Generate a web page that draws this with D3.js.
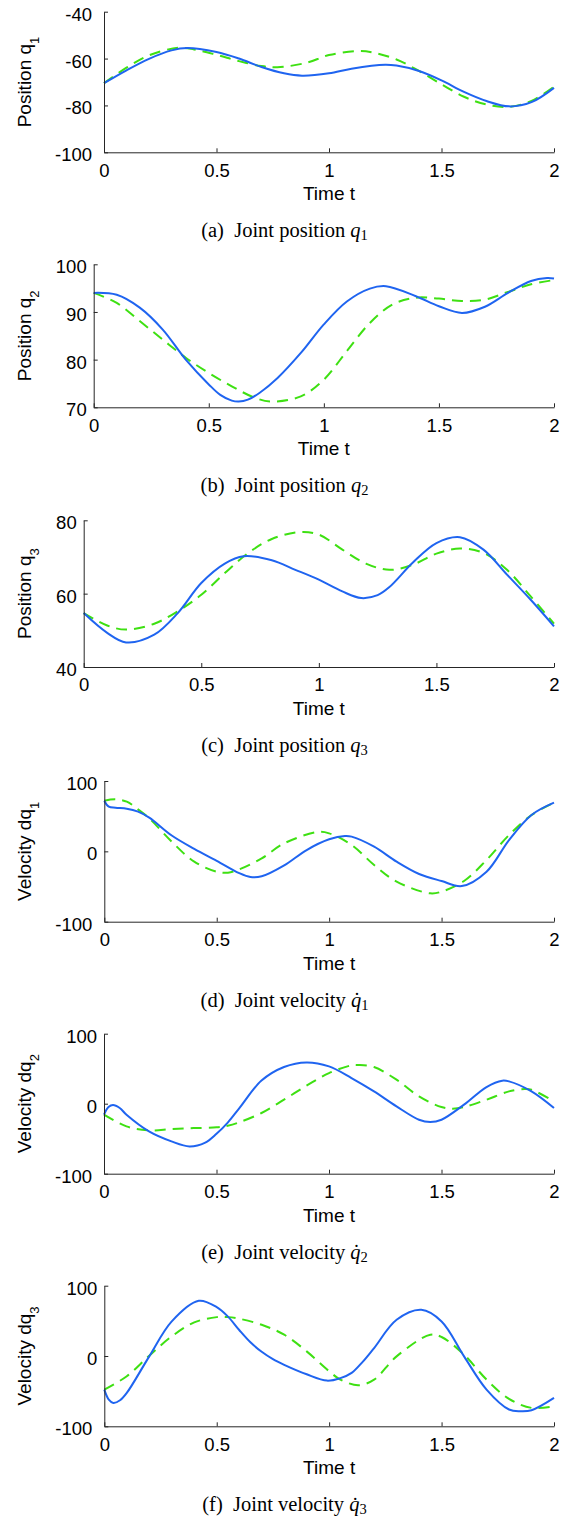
<!DOCTYPE html>
<html>
<head>
<meta charset="utf-8">
<script src="https://cdn.jsdelivr.net/npm/d3@7"></script>
<style>
  html, body { margin: 0; padding: 0; background: #fff; }
  svg { display: block; }
</style>
</head>
<body>
<svg id="fig" width="569" height="1517"></svg>
<script>
// Shared time axis
const timeDomain = [0, 2];
const timeTicks = [0, 0.5, 1, 1.5, 2];

// Joint position q1: [t, value]
const q1Solid = [[0,-70.5],[0.1,-65],[0.2,-60.1],[0.3,-56.5],[0.37,-55.5],[0.5,-57.2],[0.6,-60],[0.7,-63.6],[0.8,-66.3],[0.88,-67.3],[1.0,-66.3],[1.1,-64.3],[1.25,-62.6],[1.3,-63],[1.4,-65.3],[1.5,-69.3],[1.6,-74.2],[1.7,-78.1],[1.8,-80.4],[1.9,-78.6],[2.0,-72.5]];
const q1Dashed = [[0,-70.5],[0.1,-63.9],[0.2,-58.6],[0.33,-55.4],[0.4,-56.1],[0.5,-58.4],[0.6,-61.1],[0.7,-63.2],[0.77,-63.7],[0.9,-61.8],[1.0,-58.5],[1.13,-56.8],[1.2,-57.5],[1.3,-60.4],[1.4,-65.3],[1.5,-71],[1.6,-76.3],[1.7,-79.6],[1.8,-80.6],[1.9,-78.1],[2.0,-72]];

// Joint position q2
const q2Solid = [[0,94],[0.1,93.6],[0.2,90.9],[0.3,86.3],[0.4,80],[0.5,74.8],[0.55,72.6],[0.6,71.4],[0.63,71.2],[0.67,71.6],[0.72,73],[0.8,76.2],[0.9,81.4],[1.0,87.4],[1.1,92.2],[1.2,94.9],[1.27,95.4],[1.4,93.3],[1.5,91.2],[1.6,89.8],[1.7,91.1],[1.8,94],[1.9,96.5],[1.97,97.1],[2.0,97]];
const q2Dashed = [[0,94],[0.1,91.9],[0.2,88.1],[0.3,84.2],[0.4,80.4],[0.5,77.2],[0.6,74.4],[0.7,72],[0.77,71.2],[0.9,72.3],[1.0,75.8],[1.1,81.8],[1.2,87.7],[1.3,91.6],[1.4,93],[1.5,92.8],[1.6,92.3],[1.7,92.6],[1.8,94.2],[1.9,95.8],[2.0,96.7]];

// Joint position q3
const q3Solid = [[0,54.7],[0.1,49.3],[0.18,46.7],[0.3,48.8],[0.4,54.7],[0.5,62.9],[0.6,68.2],[0.68,70.2],[0.8,69.1],[0.9,66.5],[1.0,63.8],[1.1,60.6],[1.18,58.8],[1.25,59.6],[1.3,61.8],[1.4,68.5],[1.5,73.8],[1.6,75.4],[1.7,72],[1.8,65.2],[1.9,58.4],[2.0,51.1]];
const q3Dashed = [[0,54.7],[0.1,51.3],[0.18,50.2],[0.3,51.8],[0.4,55.2],[0.5,59.7],[0.6,65.6],[0.7,71.1],[0.8,74.9],[0.92,76.8],[1.0,76.1],[1.1,72],[1.2,68.2],[1.3,66.5],[1.4,67.9],[1.5,70.9],[1.6,72.3],[1.7,71.1],[1.8,66.5],[1.9,59.3],[2.0,51.8]];

// Joint velocity dq1
const dq1Solid = [[0,72],[0.02,63.5],[0.05,62],[0.1,60.7],[0.15,56.4],[0.2,47.9],[0.3,22.5],[0.4,3.5],[0.5,-13.5],[0.6,-31],[0.65,-36.5],[0.7,-35.5],[0.8,-20],[0.9,1.9],[1.0,17.1],[1.07,21.8],[1.1,20.9],[1.2,6.6],[1.3,-14.7],[1.4,-32.2],[1.5,-42.2],[1.59,-49.3],[1.7,-28.9],[1.8,16.1],[1.9,51.7],[2.0,69.2]];
const dq1Dashed = [[0,72],[0.05,74],[0.1,70.6],[0.15,59.7],[0.2,46.9],[0.3,13.7],[0.4,-14.7],[0.5,-28.9],[0.55,-30.3],[0.6,-25.6],[0.7,-10],[0.8,11.4],[0.95,27.5],[1.0,25.6],[1.1,9],[1.2,-19.4],[1.3,-43.1],[1.45,-59.7],[1.5,-57.3],[1.6,-42.2],[1.7,-12.3],[1.8,23.2],[1.9,51.7],[2.0,69.2]];

// Joint velocity dq2
const dq2Solid = [[0,-15.7],[0.02,-4.8],[0.04,-1.9],[0.07,-6.2],[0.1,-15.7],[0.2,-39.5],[0.3,-53.8],[0.38,-61],[0.45,-55.5],[0.5,-43],[0.55,-27],[0.6,-7],[0.7,33],[0.8,52.4],[0.9,59],[1.0,53.3],[1.1,36.7],[1.2,17.6],[1.3,-3.8],[1.4,-22.9],[1.45,-26.2],[1.5,-22.9],[1.6,-1.4],[1.7,23.8],[1.77,32.9],[1.8,31.9],[1.9,17.6],[2.0,-6.2]];
const dq2Dashed = [[0,-15.7],[0.1,-32.4],[0.2,-38.1],[0.3,-36.2],[0.4,-34.8],[0.5,-33.8],[0.55,-31.4],[0.6,-26.7],[0.7,-13.3],[0.8,5.7],[0.9,25.7],[1.0,43.8],[1.1,54.8],[1.13,55.2],[1.2,52.4],[1.3,34.3],[1.4,10.5],[1.5,-4.8],[1.55,-7.1],[1.6,-4.8],[1.7,5.7],[1.8,17.6],[1.87,21],[1.9,20],[2.0,3.3]];

// Joint velocity dq3
const dq3Solid = [[0,-47.8],[0.02,-62],[0.04,-66.7],[0.07,-62.9],[0.1,-52.5],[0.2,-0.5],[0.3,49.2],[0.42,78.5],[0.5,69.5],[0.55,56],[0.6,37],[0.65,19.5],[0.7,6],[0.75,-4.5],[0.8,-12.5],[0.9,-26],[0.99,-35],[1.05,-31.5],[1.1,-24],[1.15,-8],[1.2,11.3],[1.3,51.5],[1.41,65.7],[1.5,49.2],[1.6,-0.5],[1.7,-47.8],[1.8,-76.1],[1.85,-78.5],[1.9,-77.1],[2.0,-59.6]];
const dq3Dashed = [[0,-47.8],[0.1,-28.8],[0.2,0.5],[0.3,27.9],[0.4,47.8],[0.5,55.3],[0.55,55.3],[0.6,53],[0.7,44.4],[0.8,30.3],[0.9,6.6],[1.0,-21.7],[1.05,-33.6],[1.13,-41.6],[1.2,-33.6],[1.3,-0.5],[1.45,30.3],[1.5,27],[1.6,1.9],[1.7,-33.6],[1.8,-61],[1.9,-73.8],[2.0,-71.4]];

// Value axes
const q1Ticks = [-100, -80, -60, -40];
const q2Ticks = [70, 80, 90, 100];
const q3Ticks = [40, 60, 80];
const velTicks = [-100, 0, 100];

// Captions and axis titles
const captionLetters = ["a", "b", "c", "d", "e", "f"];
const yTitleWords = ["Position", "Position", "Position", "Velocity", "Velocity", "Velocity"];
const yTitleSymbols = ["q", "q", "q", "dq", "dq", "dq"];
const jointIndex = ["1", "2", "3", "1", "2", "3"];
const captionWords = ["Joint position", "Joint position", "Joint position", "Joint velocity", "Joint velocity", "Joint velocity"];
const xTitle = "Time t";

// Panel frames (pixel layout)
const panels = [
  { left: 104,   top: 11.7,   bottom: 152.3,  ticks: q1Ticks,  solid: q1Solid,  dashed: q1Dashed },
  { left: 93.7,  top: 264.3,  bottom: 407.3,  ticks: q2Ticks,  solid: q2Solid,  dashed: q2Dashed },
  { left: 83.7,  top: 520.3,  bottom: 667,    ticks: q3Ticks,  solid: q3Solid,  dashed: q3Dashed },
  { left: 104.3, top: 781,    bottom: 921.7,  ticks: velTicks, solid: dq1Solid, dashed: dq1Dashed },
  { left: 104,   top: 1033.7, bottom: 1173.7, ticks: velTicks, solid: dq2Solid, dashed: dq2Dashed },
  { left: 104.3, top: 1285.7, bottom: 1426.3, ticks: velTicks, solid: dq3Solid, dashed: dq3Dashed }
];
const plotRight = 554;

const sans = "'Liberation Sans', Arial, Helvetica, sans-serif";
const serif = "'Liberation Serif', 'Times New Roman', Times, serif";
const axisColor = "#262626";
const solidColor = "#1f64f0";
const dashedColor = "#3ee012";

// Plain hyphen-minus labels
const plainNumber = d => String(d);

const svg = d3.select("#fig");

panels.forEach((p, i) => {
  const x = d3.scaleLinear().domain(timeDomain).range([p.left, plotRight]);
  const y = d3.scaleLinear().domain(d3.extent(p.ticks)).range([p.bottom, p.top]);
  const g = svg.append("g");

  // Curves
  const line = d3.line()
    .x(d => x(d[0]))
    .y(d => y(d[1]))
    .curve(d3.curveCatmullRom.alpha(0.5));

  g.append("path")
    .attr("d", line(p.dashed))
    .attr("fill", "none")
    .attr("stroke", dashedColor)
    .attr("stroke-width", 2)
    .attr("stroke-dasharray", "11,7");

  g.append("path")
    .attr("d", line(p.solid))
    .attr("fill", "none")
    .attr("stroke", solidColor)
    .attr("stroke-width", 2);

  // Left axis, ticks pointing inward
  const yAxis = g.append("g")
    .attr("transform", `translate(${p.left},0)`)
    .call(d3.axisLeft(y).tickValues(p.ticks).tickSizeInner(-4).tickSizeOuter(0).tickPadding(7)
      .tickFormat(plainNumber));
  yAxis.selectAll("path, line").attr("stroke", axisColor);
  yAxis.selectAll("text")
    .attr("fill", "#000")
    .attr("font-family", sans)
    .attr("font-size", 18.5)
    .attr("dy", "0.46em")
    .attr("dx", d => d < 0 ? -5 : 0);

  // Bottom axis, ticks pointing inward
  const xAxis = g.append("g")
    .attr("transform", `translate(0,${p.bottom})`)
    .call(d3.axisBottom(x).tickValues(timeTicks).tickSizeInner(-4).tickSizeOuter(0).tickPadding(11.3)
      .tickFormat(plainNumber));
  xAxis.selectAll("path, line").attr("stroke", axisColor);
  xAxis.selectAll("text")
    .attr("fill", "#000")
    .attr("font-family", sans)
    .attr("font-size", 18.5);

  // X title
  g.append("text")
    .attr("x", (p.left + plotRight) / 2)
    .attr("y", p.bottom + 48)
    .attr("text-anchor", "middle")
    .attr("font-family", sans)
    .attr("font-size", 19)
    .text(xTitle);

  // Y title with subscript
  const yt = g.append("text")
    .attr("transform", `translate(31,${(p.top + p.bottom) / 2}) rotate(-90)`)
    .attr("text-anchor", "middle")
    .attr("font-family", sans)
    .attr("font-size", 19);
  yt.append("tspan").text(yTitleWords[i] + " " + yTitleSymbols[i]);
  yt.append("tspan").attr("font-size", 13).attr("dy", 8).text(jointIndex[i]);

  // Caption
  const cap = g.append("text")
    .attr("x", 284.5)
    .attr("y", p.bottom + 85)
    .attr("text-anchor", "middle")
    .attr("font-family", serif)
    .attr("font-size", 20.5);
  cap.append("tspan").text(`(${captionLetters[i]})\u2002${captionWords[i]} `);
  cap.append("tspan").attr("font-style", "italic").text(i < 3 ? "q" : "q\u0307");
  cap.append("tspan").attr("font-size", 14.5).attr("dy", 3).text(jointIndex[i]);
});
</script>
</body>
</html>
